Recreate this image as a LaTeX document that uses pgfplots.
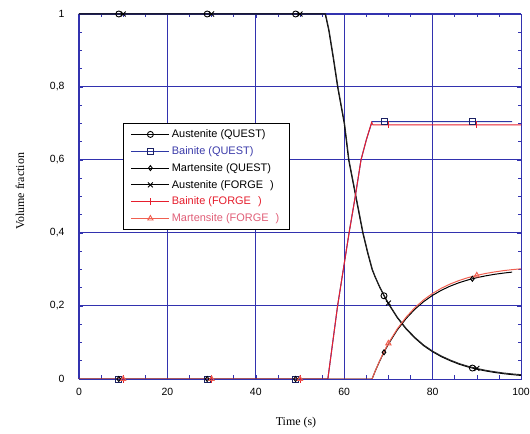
\documentclass[border=0pt]{standalone}
\usepackage{pgfplots}
\pgfplotsset{compat=1.18}
\usepackage{fontspec}
\setmainfont{Liberation Serif}
\newfontfamily\sansf{Liberation Sans}
\definecolor{gridblue}{RGB}{50,50,175}
\definecolor{qblue}{RGB}{45,55,165}
\definecolor{fred}{RGB}{230,30,45}
\definecolor{fsalmon}{RGB}{240,95,80}
\definecolor{legblue}{RGB}{60,60,170}
\definecolor{legpink}{RGB}{225,95,120}
\begin{document}
\begin{tikzpicture}
\path[use as bounding box] (-79bp,-55bp) rectangle (451bp,379bp);
\begin{axis}[
 at={(0,0)}, anchor=south west,
 width=442bp, height=365bp, scale only axis,
 xmin=0, xmax=100, ymin=0, ymax=1,
 xtick={0,20,40,60,80,100}, ytick={0,0.2,0.4,0.6,0.8,1},
 minor x tick num=3, minor y tick num=3,
 tick align=inside, major tick length=4bp, minor tick length=3.5bp,
 grid=major, major grid style={draw=gridblue, line width=1bp},
 axis line style={gridblue, line width=0.9bp},
 tick style={gridblue, line width=0.6bp},
 ticklabel style={font=\sansf\fontsize{10.5}{12}\selectfont},
 /pgf/number format/assume math mode=true,
 /pgf/number format/use comma,
 yticklabel style={xshift=-11bp},
 xticklabel style={yshift=-6bp},
 xlabel={Time (s)}, ylabel={Volume fraction},
 label style={font=\fontsize{12}{14}\selectfont},
 xlabel style={at={(axis description cs:0.491,0)}, anchor=center, yshift=-44bp},
 ylabel style={at={(axis description cs:-0.1335,0.514)}, anchor=center},
 legend style={at={(axis description cs:0.099,0.70)}, anchor=north west, draw=black, fill=white, font=\sansf\fontsize{11}{13}\selectfont, row sep=3.4bp, inner xsep=8bp, inner ysep=4bp, cells={anchor=west}},
 legend image code/.code={\draw[mark repeat=2,mark phase=2] plot coordinates {(0bp,0bp) (19bp,0bp) (38bp,0bp)};},
]
\addlegendimage{black, line width=0.9bp, mark=o, mark size=3bp, mark options={solid}}
\addlegendentry{Austenite (QUEST)}
\addlegendimage{qblue, line width=0.9bp, mark=square, mark size=3bp, mark options={draw=qblue!60!black}}
\addlegendentry{\textcolor{legblue}{Bainite (QUEST)}}
\addlegendimage{black, line width=0.9bp, mark=diamond, mark size=2.5bp}
\addlegendentry{Martensite (QUEST)}
\addlegendimage{black, line width=0.9bp, mark=x, mark size=3.5bp}
\addlegendentry{Austenite (FORGE\hspace{7bp})}
\addlegendimage{fred, line width=0.9bp, mark=|, mark size=3.5bp}
\addlegendentry{\textcolor{fred}{Bainite (FORGE\hspace{7bp})}}
\addlegendimage{fsalmon, line width=0.9bp, mark=triangle, mark size=3bp}
\addlegendentry{\textcolor{legpink}{Martensite (FORGE\hspace{7bp})}}

% Austenite QUEST
\addplot[black, line width=1bp, forget plot] coordinates {
(0,1) (55.7,1) (56.5,0.955) (57.5,0.88) (58.5,0.80) (60,0.70) (61,0.60) (62.6,0.50) (64.2,0.40) (65.3,0.345) (66.3,0.300) (67,0.279) (68,0.252) (69,0.228) (70,0.206) (72,0.168) (74,0.137) (76,0.112) (78,0.091) (80,0.0745) (82,0.061) (84,0.050) (86,0.0405) (88,0.033) (90,0.027) (92,0.022) (94,0.018) (96,0.0146) (98,0.012) (100,0.0097)};
% Austenite FORGE
\addplot[black!85, line width=0.9bp, forget plot] coordinates {
(0,1) (55.8,1) (56.6,0.955) (57.6,0.88) (58.6,0.80) (60.1,0.70) (61.1,0.60) (62.7,0.50) (64.3,0.40) (65.4,0.345) (66.4,0.300) (67,0.281) (68,0.254) (69,0.230) (70,0.208) (72,0.170) (74,0.139) (76,0.114) (78,0.093) (80,0.0765) (82,0.063) (84,0.052) (86,0.0425) (88,0.035) (90,0.029) (92,0.024) (94,0.020) (96,0.0166) (98,0.014) (100,0.012)};
% Bainite QUEST
\addplot[qblue, line width=1bp, forget plot] coordinates {
(0,0) (56.3,0) (57.4,0.1) (58.5,0.2) (59.8,0.3) (61.1,0.4) (62.5,0.5) (63.8,0.6) (65,0.655) (66.3,0.705) (98,0.705)};
% Bainite FORGE
\addplot[fred, line width=1bp, forget plot] coordinates {
(0,0) (56.3,0) (57.4,0.1) (58.5,0.2) (59.8,0.3) (61.1,0.4) (62.5,0.5) (63.8,0.6) (65,0.655) (66.2,0.703) (66.5,0.696) (100,0.696)};
% Martensite QUEST
\addplot[black, line width=1bp, forget plot] coordinates {
(0,0) (66.3,0) (67,0.0210) (68,0.0484) (69,0.0732) (70,0.0956) (72,0.1342) (74,0.1656) (76,0.1913) (78,0.2122) (80,0.2293) (82,0.2432) (84,0.2546) (86,0.2639) (88,0.2714) (90,0.2776) (92,0.2826) (94,0.2868) (96,0.2901) (98,0.2929)};
% Martensite FORGE
\addplot[fsalmon, line width=1bp, forget plot] coordinates {
(0,0) (66.3,0) (67,0.0215) (68,0.0495) (69,0.0749) (70,0.0978) (72,0.1372) (74,0.1694) (76,0.1957) (78,0.2171) (80,0.2345) (82,0.2488) (84,0.2604) (86,0.2699) (88,0.2777) (90,0.2840) (92,0.2891) (94,0.2933) (96,0.2968) (98,0.2996) (100,0.3019)};

% markers
\addplot[only marks, black, line width=0.9bp, mark=o, mark size=3bp, forget plot] coordinates {(9,1) (29,1) (49,1) (69,0.228) (89,0.030)};
\addplot[only marks, black, line width=0.9bp, mark=x, mark size=3.5bp, forget plot] coordinates {(10,1) (30,1) (50,1) (70,0.208) (90,0.029)};
\addplot[only marks, qblue!60!black, line width=0.9bp, mark=square, mark size=3bp, forget plot] coordinates {(9,0) (29,0) (49,0) (69,0.705) (89,0.705)};
\addplot[only marks, fred, line width=0.9bp, mark=|, mark size=3.5bp, forget plot] coordinates {(10,0) (30,0) (50,0) (70,0.696) (90,0.696)};
\addplot[only marks, black, line width=0.9bp, mark=diamond, mark size=2.5bp, forget plot] coordinates {(9,0) (29,0) (49,0) (69,0.0732) (89,0.2746)};
\addplot[only marks, fsalmon, line width=0.9bp, mark=triangle, mark size=3bp, forget plot] coordinates {(10,0) (30,0) (50,0) (70,0.0978) (90,0.2840)};
\end{axis}
\end{tikzpicture}
\end{document}
